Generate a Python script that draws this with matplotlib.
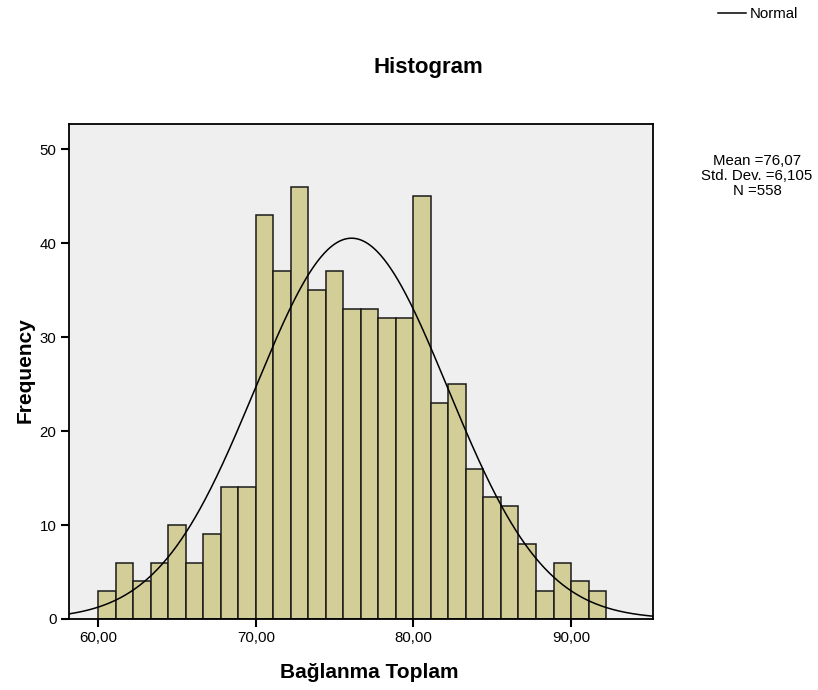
import numpy as np
import matplotlib
matplotlib.use("Agg")
import matplotlib.pyplot as plt

# ---- data ----
counts = [3, 6, 4, 6, 10, 6, 9, 14, 14, 43, 37, 46, 35, 37, 33, 33, 32, 32, 45,
          23, 25, 16, 13, 12, 8, 3, 6, 4, 3]
bin_start = 60.0
bin_width = 1.111
mean = 76.07
std = 6.105
n = 558
x_ticks = [60, 70, 80, 90]
x_tick_labels = ["60,00", "70,00", "80,00", "90,00"]
y_ticks = [0, 10, 20, 30, 40, 50]
stats_lines = ["Mean =76,07", "Std. Dev. =6,105", "N =558"]

plt.rcParams['font.family'] = ['Liberation Sans', 'DejaVu Sans']

fig = plt.figure(figsize=(8.18, 6.90), dpi=100)
ax = fig.add_axes([69/818, 71/690, 584/818, 495/690])
ax.set_facecolor('#EFEFEF')

edges = bin_start + bin_width * np.arange(len(counts) + 1)
ax.bar(edges[:-1], counts, width=bin_width, align='edge',
       color='#D3CE98', edgecolor='#1a1a1a', linewidth=1.1, zorder=2)

xlim = (58.14, 95.2)
xs = np.linspace(xlim[0], xlim[1], 500)
ys = n * bin_width * np.exp(-0.5 * ((xs - mean) / std) ** 2) / (std * np.sqrt(2 * np.pi))
ax.plot(xs, ys, color='black', linewidth=1.1, zorder=3)

ax.set_xlim(*xlim)
ax.set_ylim(0, 52.66)
ax.set_xticks(x_ticks)
ax.set_xticklabels(x_tick_labels)
ax.set_yticks(y_ticks)
ax.tick_params(axis='both', direction='out', length=6, width=1.5, labelsize=10.8,
               colors='black', pad=3)
for s in ax.spines.values():
    s.set_linewidth(1.3)
    s.set_color('black')

fig.text(369/818, 1 - 672/690, "Bağlanma Toplam", ha='center', va='center',
         fontsize=15, fontweight='bold')
fig.text(25/818, 1 - 370/690, "Frequency", ha='center', va='center',
         fontsize=15, fontweight='bold', rotation=90)
fig.text(428/818, 1 - 68/690, "Histogram", ha='center', va='center',
         fontsize=16, fontweight='bold')

for i, line in enumerate(stats_lines):
    fig.text(757/818, 1 - (161 + 14.8 * i)/690, line, ha='center', va='center',
             fontsize=10.8)

# legend
fig.add_artist(plt.Line2D([718/818, 746/818], [1 - 13/690, 1 - 13/690],
                          color='black', linewidth=1.1))
fig.text(750/818, 1 - 14/690, "Normal", ha='left', va='center', fontsize=10.8)

fig.savefig("out.png", dpi=100)
